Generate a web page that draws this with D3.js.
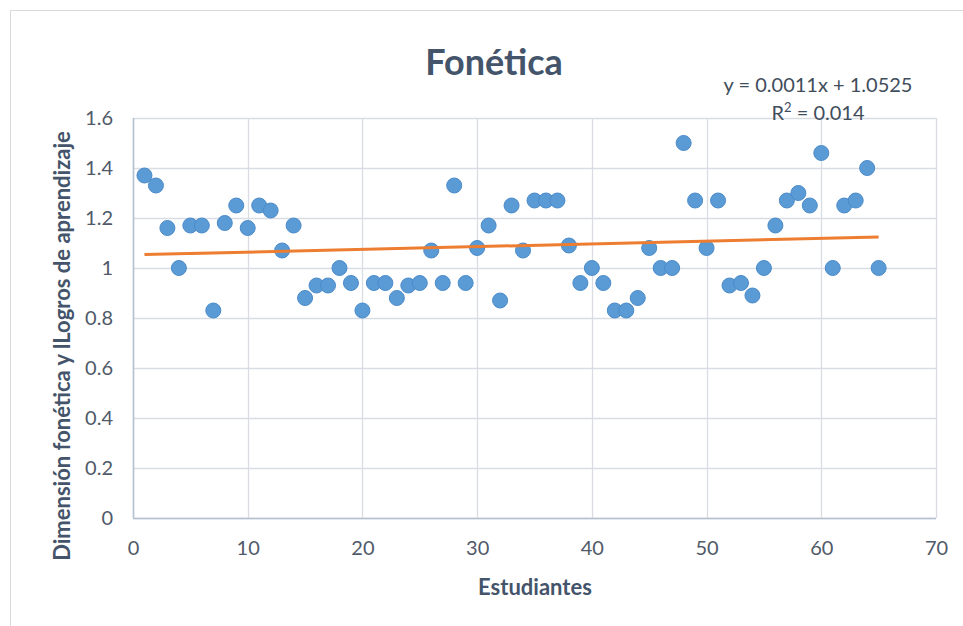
<!DOCTYPE html>
<html><head><meta charset="utf-8">
<script src="https://cdn.jsdelivr.net/npm/d3@7"></script>
<style>body{margin:0;background:#fff}svg{display:block}text{font-family:Lato,"Open Sans",sans-serif}</style>
</head><body>
<svg id="c" width="963" height="626"></svg>
<script>
const students = d3.range(1, 66);
const values = [1.37,1.33,1.16,1.00,1.17,1.17,0.83,1.18,1.25,1.16,
1.25,1.23,1.07,1.17,0.88,0.93,0.93,1.00,0.94,0.83,
0.94,0.94,0.88,0.93,0.94,1.07,0.94,1.33,0.94,1.08,
1.17,0.87,1.25,1.07,1.27,1.27,1.27,1.09,0.94,1.00,
0.94,0.83,0.83,0.88,1.08,1.00,1.00,1.50,1.27,1.08,
1.27,0.93,0.94,0.89,1.00,1.17,1.27,1.30,1.25,1.46,
1.00,1.25,1.27,1.40,1.00];
const xTicks = [0,10,20,30,40,50,60,70];
const yTicks = [0,0.2,0.4,0.6,0.8,1,1.2,1.4,1.6];
const slope = 0.0011, intercept = 1.0525, r2 = 0.014;
const titleText = "Fonética";
const xLabel = "Estudiantes";
const yLabel = "Dimensión fonética y lLogros de aprendizaje";

const svg = d3.select("#c");
svg.append("rect").attr("x",10.5).attr("y",10.5).attr("width",960).attr("height",640)
  .attr("fill","#fff").attr("stroke","#D9D9D9");

const x = d3.scaleLinear().domain([0,70]).range([133,936]);
const y = d3.scaleLinear().domain([0,1.6]).range([518,118]);

const g = svg.append("g");
g.selectAll(".hg").data(yTicks).join("line")
  .attr("x1",x(0)).attr("x2",x(70)).attr("y1",d=>Math.round(y(d))+0.5).attr("y2",d=>Math.round(y(d))+0.5)
  .attr("stroke","#D9DDE3").attr("stroke-width",1.3);
g.selectAll(".vg").data(xTicks).join("line")
  .attr("y1",y(0)).attr("y2",y(1.6)).attr("x1",d=>Math.round(x(d))+0.5).attr("x2",d=>Math.round(x(d))+0.5)
  .attr("stroke","#D9DDE3").attr("stroke-width",1.3);
g.append("line").attr("x1",x(0)+0.5).attr("x2",x(0)+0.5).attr("y1",y(0)).attr("y2",y(1.6)).attr("stroke","#B4C0D0").attr("stroke-width",1.5);
g.append("line").attr("x1",x(0)).attr("x2",x(70)).attr("y1",y(0)+0.5).attr("y2",y(0)+0.5).attr("stroke","#B4C0D0").attr("stroke-width",1.5);

const xa = svg.append("g").attr("transform",`translate(0,${y(0)})`)
  .call(d3.axisBottom(x).tickValues(xTicks).tickSize(0).tickPadding(23).tickFormat(d3.format("d")));
xa.select(".domain").remove();
xa.selectAll("text").attr("font-size",20).attr("fill","#505A68").style("font-family","Lato,'Open Sans',sans-serif");
const ya = svg.append("g").attr("transform",`translate(${x(0)},0)`)
  .call(d3.axisLeft(y).tickValues(yTicks).tickSize(0).tickPadding(20).tickFormat(d=>d3.format("")(+d.toFixed(1))));
ya.select(".domain").remove();
ya.selectAll("text").attr("font-size",20).attr("fill","#505A68").style("font-family","Lato,'Open Sans',sans-serif");

svg.append("g").selectAll("circle").data(values).join("circle")
  .attr("cx",(d,i)=>x(students[i])).attr("cy",d=>y(d)).attr("r",7.5)
  .attr("fill","#5B9BD5").attr("stroke","#4A8AC9").attr("stroke-width",1);

const x1 = d3.min(students), x2 = d3.max(students);
svg.append("line").attr("x1",x(x1)).attr("x2",x(x2))
  .attr("y1",y(slope*x1+intercept)).attr("y2",y(slope*x2+intercept))
  .attr("stroke","#ED7D31").attr("stroke-width",3);

svg.append("text").attr("x",494).attr("y",75).attr("text-anchor","middle")
  .attr("font-size",36).attr("font-weight","bold").attr("fill","#44546A").text(titleText);
svg.append("text").attr("x",818).attr("y",92).attr("text-anchor","middle")
  .attr("font-size",20).attr("fill","#404D5B").text(`y = ${slope}x + ${intercept}`);
const rt = svg.append("text").attr("x",818).attr("y",120).attr("text-anchor","middle")
  .attr("font-size",20).attr("fill","#404D5B");
rt.append("tspan").text("R");
rt.append("tspan").attr("font-size",13).attr("dy",-8).text("2");
rt.append("tspan").attr("dy",8).text(` = ${r2}`);

svg.append("text").attr("x",535).attr("y",595).attr("text-anchor","middle")
  .attr("font-size",22).attr("font-weight","bold").attr("fill","#44546A").text(xLabel);
svg.append("text").attr("transform","translate(70,346) rotate(-90)").attr("text-anchor","middle")
  .attr("font-size",22).attr("font-weight","bold").attr("fill","#44546A").text(yLabel);
</script>
</body></html>
